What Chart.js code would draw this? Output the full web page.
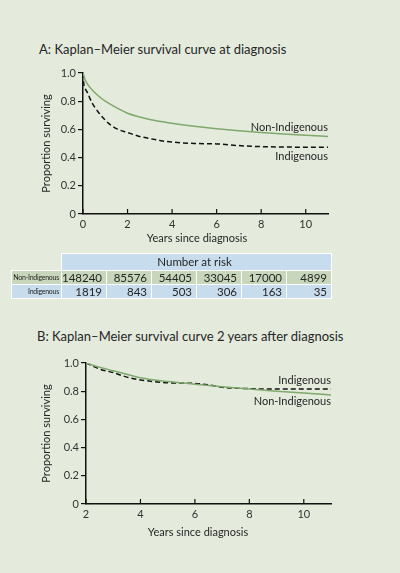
<!DOCTYPE html>
<html>
<head>
<meta charset="utf-8">
<script src="https://cdn.jsdelivr.net/npm/chart.js@4.4.0/dist/chart.umd.min.js"></script>
<style>
html, body { margin: 0; padding: 0; }
body { width: 400px; height: 573px; background: #e4ebdd; position: relative; overflow: hidden; font-family: Lato, sans-serif; color: #262626; }
.title { position: absolute; font-size: 13px; line-height: 16px; white-space: nowrap; }
.xtitle { position: absolute; font-size: 11px; line-height: 13px; width: 200px; text-align: center; white-space: nowrap; }
canvas { position: absolute; left: 0; }
#risk { position: absolute; left: 11px; top: 253px; border-collapse: collapse; font-size: 11.5px; table-layout: fixed; }
#risk td { border: 1.5px solid #fff; padding: 0 4px 0 0; text-align: right; height: 13px; line-height: 13px; width: 40px; white-space: nowrap; overflow: hidden; }
#risk td.lab { font-size: 7px; width: 47px; letter-spacing: -0.25px; padding-right: 2px; }
#risk tr.head td { background: #c7dcec; text-align: center; height: 16px; line-height: 16px; }
#risk tr.head td.blank { background: transparent; border-color: transparent #fff #fff transparent; }
#risk tr.non td { background: #c8d6bb; }
#risk tr.ind td { background: #c7dcec; }
</style>
</head>
<body>
<div class="title" style="left:39px; top:41px;">A: Kaplan–Meier survival curve at diagnosis</div>
<canvas id="chartA" width="400" height="190" style="top:60px;"></canvas>
<div class="xtitle" style="left:97px; top:231px;">Years since diagnosis</div>

<table id="risk">
  <tr class="head"><td class="blank"></td><td colspan="6" id="riskHead"></td></tr>
  <tr class="non" id="rowNon"></tr>
  <tr class="ind" id="rowInd"></tr>
</table>

<div class="title" style="left:37px; top:328px;">B: Kaplan–Meier survival curve 2 years after diagnosis</div>
<canvas id="chartB" width="400" height="190" style="top:350px;"></canvas>
<div class="xtitle" style="left:98px; top:525px;">Years since diagnosis</div>

<script>
// Panel A: survival from diagnosis
const yearsA_non = [0, 0.1, 0.25, 0.5, 0.75, 1, 1.5, 2, 2.5, 3, 4, 5, 6, 7, 8, 9, 10, 11];
const survA_non  = [1.0, 0.95, 0.91, 0.865, 0.83, 0.80, 0.755, 0.715, 0.69, 0.67, 0.643, 0.622, 0.605, 0.59, 0.578, 0.567, 0.558, 0.55];
const yearsA_ind = [0, 0.03, 0.1, 0.2, 0.4, 0.7, 1, 1.25, 1.5, 2, 2.5, 3, 3.5, 4, 5, 6, 7, 8, 9, 10, 11];
const survA_ind  = [1.0, 0.93, 0.89, 0.86, 0.79, 0.72, 0.665, 0.63, 0.605, 0.578, 0.552, 0.535, 0.52, 0.51, 0.5, 0.497, 0.485, 0.478, 0.475, 0.474, 0.474];

// Panel B: conditional survival 2 years after diagnosis
const yearsB_non = [2, 2.5, 3, 3.5, 4, 5, 6, 7, 8, 9, 10, 11];
const survB_non  = [1.0, 0.97, 0.945, 0.92, 0.895, 0.868, 0.85, 0.832, 0.816, 0.80, 0.787, 0.773];
const yearsB_ind = [2, 2.5, 3, 3.5, 4, 4.5, 5, 6, 6.5, 7, 8, 9, 10, 11];
const survB_ind  = [1.0, 0.957, 0.932, 0.9, 0.88, 0.868, 0.86, 0.855, 0.845, 0.828, 0.818, 0.815, 0.815, 0.815];

// Number at risk table
const riskGroups = ['Non-Indigenous', 'Indigenous'];
const riskNon = [148240, 85576, 54405, 33045, 17000, 4899];
const riskInd = [1819, 843, 503, 306, 163, 35];

// Tick labels
const xTicksA = [0, 2, 4, 6, 8, 10];
const xTicksB = [2, 4, 6, 8, 10];
const yTicks = [0, 0.2, 0.4, 0.6, 0.8, 1.0];

const GREEN = '#7ea86c';
const FONT = 'Lato';

document.getElementById('riskHead').textContent = 'Number at risk';
[['rowNon', riskGroups[0], riskNon], ['rowInd', riskGroups[1], riskInd]].forEach(([id, name, vals]) => {
    const tr = document.getElementById(id);
    tr.innerHTML = `<td class="lab">${name}</td>` + vals.map(v => `<td>${v}</td>`).join('');
});

// short tick marks pointing up into the plot on the x axis
const innerTicks = {
    id: 'innerTicks',
    afterDraw(chart) {
        const x = chart.scales.x, ctx = chart.ctx;
        ctx.save();
        ctx.strokeStyle = '#111';
        ctx.lineWidth = 1.2;
        x.ticks.forEach(t => {
            const px = x.getPixelForValue(t.value);
            ctx.beginPath();
            ctx.moveTo(px, x.top);
            ctx.lineTo(px, x.top - 5);
            ctx.stroke();
        });
        ctx.restore();
    }
};

// series names written at the right end of the curves
const curveLabels = {
    id: 'curveLabels',
    afterDatasetsDraw(chart, args, opts) {
        const {ctx, chartArea, scales} = chart;
        ctx.save();
        ctx.font = `11px ${FONT}`;
        ctx.fillStyle = '#262626';
        ctx.textAlign = 'right';
        ctx.textBaseline = 'middle';
        opts.items.forEach(it => ctx.fillText(it.text, chartArea.right, scales.y.getPixelForValue(it.y)));
        ctx.restore();
    }
};

function points(xs, ys) {
    return xs.map((v, i) => ({x: v, y: ys[i]}));
}

function makeChart(id, xMin, xTicks, datasets, axisLeft, padRight, labels) {
    return new Chart(document.getElementById(id), {
        type: 'line',
        data: {
            datasets: datasets.map(d => ({
                data: d.data,
                borderColor: d.color,
                borderWidth: 1.5,
                borderDash: d.dash || [],
                pointRadius: 0,
                cubicInterpolationMode: 'monotone',
                fill: false
            }))
        },
        options: {
            responsive: false,
            animation: false,
            layout: { padding: { top: 13, right: padRight, left: 0, bottom: 0 } },
            scales: {
                x: {
                    type: 'linear',
                    min: xMin,
                    max: 11,
                    afterBuildTicks: s => { s.ticks = xTicks.map(v => ({value: v})); },
                    afterFit: s => { s.height = 36; },
                    grid: { display: false, drawTicks: false, tickLength: 0 },
                    border: { color: '#111', width: 1.5 },
                    ticks: { padding: 4, color: '#333', font: { family: FONT, size: 11 } }
                },
                y: {
                    min: 0,
                    max: 1,
                    afterBuildTicks: s => { s.ticks = yTicks.map(v => ({value: v})); },
                    afterFit: s => { s.width = axisLeft; },
                    grid: { drawOnChartArea: false, tickLength: 5, color: '#111', lineWidth: 1.2 },
                    border: { color: '#111', width: 1.5 },
                    ticks: {
                        padding: 2,
                        color: '#333',
                        font: { family: FONT, size: 11 },
                        callback: v => v === 0 ? '0' : v.toFixed(1)
                    },
                    title: {
                        display: true,
                        text: 'Proportion surviving',
                        color: '#262626',
                        font: { family: FONT, size: 11 },
                        padding: { top: 40, bottom: 0 }
                    }
                }
            },
            plugins: {
                legend: { display: false },
                tooltip: { enabled: false },
                curveLabels: { items: labels }
            }
        },
        plugins: [innerTicks, curveLabels]
    });
}

makeChart('chartA', 0, xTicksA, [
    { data: points(yearsA_non, survA_non), color: GREEN },
    { data: points(yearsA_ind, survA_ind), color: '#111', dash: [5, 3] }
], 83, 72, [
    { text: 'Non-Indigenous', y: 0.612 },
    { text: 'Indigenous', y: 0.411 }
]);

makeChart('chartB', 2, xTicksB, [
    { data: points(yearsB_non, survB_non), color: GREEN },
    { data: points(yearsB_ind, survB_ind), color: '#111', dash: [5, 3] }
], 86, 69, [
    { text: 'Indigenous', y: 0.874 },
    { text: 'Non-Indigenous', y: 0.728 }
]);
</script>
</body>
</html>
